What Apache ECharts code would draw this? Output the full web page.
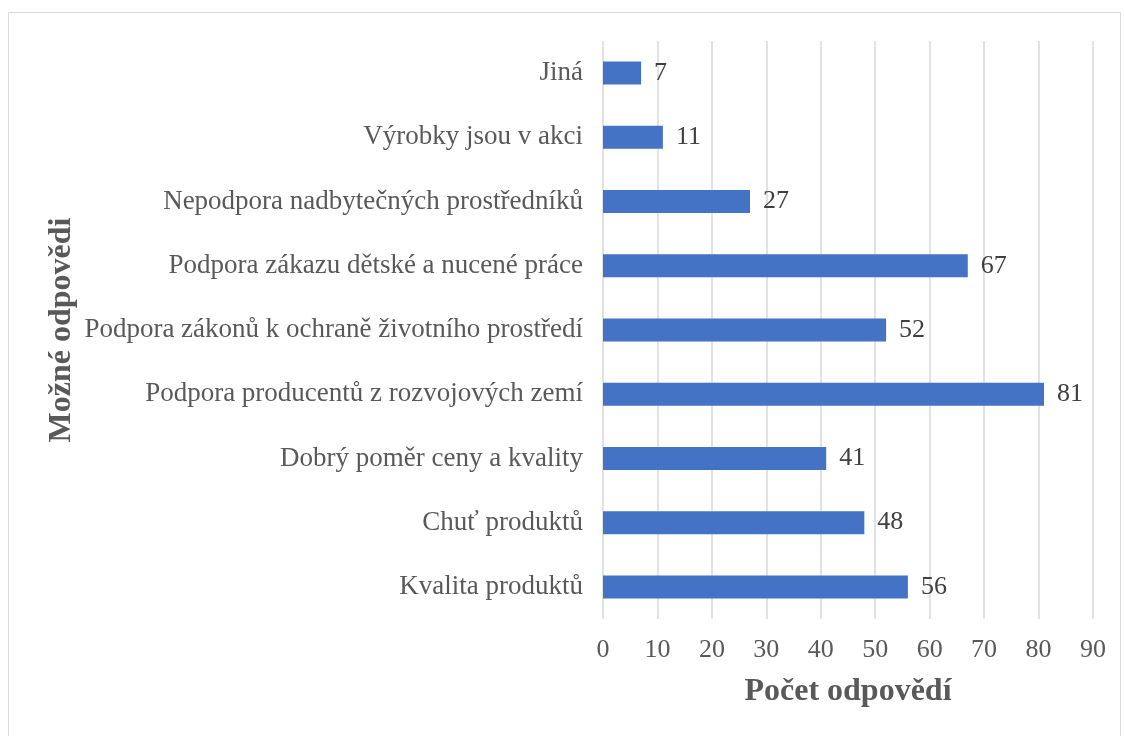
<!DOCTYPE html>
<html>
<head>
<meta charset="utf-8">
<script src="https://cdn.jsdelivr.net/npm/echarts@6/dist/echarts.min.js"></script>
<style>
html,body{margin:0;padding:0;background:#fff;}
#chart{width:1124px;height:736px;}
</style>
</head>
<body>
<div id="chart"></div>
<script>
const categories = [
  "Kvalita produktů",
  "Chuť produktů",
  "Dobrý poměr ceny a kvality",
  "Podpora producentů z rozvojových zemí",
  "Podpora zákonů k ochraně životního prostředí",
  "Podpora zákazu dětské a nucené práce",
  "Nepodpora nadbytečných prostředníků",
  "Výrobky jsou v akci",
  "Jiná"
];
const values = [56, 48, 41, 81, 52, 67, 27, 11, 7];
const xTitle = "Počet odpovědí";
const yTitle = "Možné odpovědi";

const font = "'Liberation Serif', 'Times New Roman', serif";
const chart = echarts.init(document.getElementById('chart'));
chart.setOption({
  animation: false,
  backgroundColor: '#fff',
  graphic: [{
    type: 'rect',
    shape: {x: 8.5, y: 12.5, width: 1112, height: 730},
    style: {fill: 'none', stroke: '#d9d9d9', lineWidth: 1}
  }],
  grid: {left: 603, right: 31, top: 41, bottom: 117, containLabel: false},
  xAxis: {
    type: 'value',
    min: 0, max: 90, interval: 10,
    name: xTitle,
    nameLocation: 'middle',
    nameGap: 57,
    nameTextStyle: {fontFamily: font, fontSize: 32, fontWeight: 'bold', color: '#595959'},
    axisLine: {show: false},
    axisTick: {show: false},
    axisLabel: {fontFamily: font, fontSize: 26, color: '#595959', margin: 18},
    splitLine: {show: true, lineStyle: {color: '#d9d9d9', width: 1.5}}
  },
  yAxis: {
    type: 'category',
    data: categories,
    name: yTitle,
    nameLocation: 'middle',
    nameGap: 525,
    nameRotate: 90,
    nameTextStyle: {fontFamily: font, fontSize: 32, fontWeight: 'bold', color: '#595959'},
    axisLine: {show: false},
    axisTick: {show: false},
    axisLabel: {fontFamily: font, fontSize: 27, color: '#595959', margin: 20},
    splitLine: {show: false}
  },
  series: [{
    type: 'bar',
    data: values,
    barWidth: 23,
    itemStyle: {color: '#4472C4'},
    label: {
      show: true,
      position: 'right',
      distance: 13,
      fontFamily: font,
      fontSize: 26,
      color: '#404040'
    }
  }]
});
</script>
</body>
</html>
